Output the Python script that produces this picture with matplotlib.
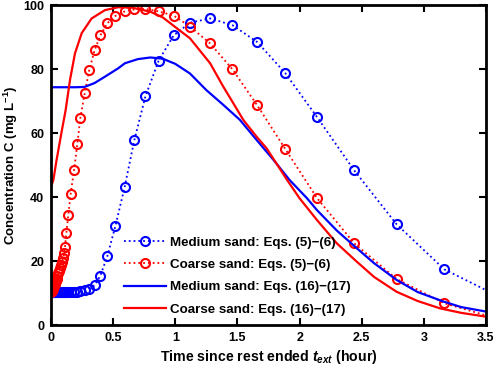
import matplotlib
matplotlib.use("Agg")
import matplotlib.pyplot as plt

# fuentes en negrita tipo Helvetica
plt.rcParams['font.family'] = ['Liberation Sans', 'DejaVu Sans']
plt.rcParams['font.weight'] = 'bold'
plt.rcParams['axes.labelweight'] = 'bold'
plt.rcParams['mathtext.fontset'] = 'custom'
plt.rcParams['mathtext.rm'] = 'Liberation Sans:bold'
plt.rcParams['mathtext.it'] = 'Liberation Sans:italic:bold'
plt.rcParams['mathtext.bf'] = 'Liberation Sans:bold'

# Eqs. (5)-(6): tiempos de los marcadores (compartidos)
t_eq56 = [0.0, 0.005, 0.01, 0.015, 0.02, 0.025, 0.03, 0.035, 0.04, 0.046, 0.052,
          0.059, 0.066, 0.072, 0.078, 0.087, 0.099, 0.107, 0.113, 0.123, 0.139,
          0.158, 0.185, 0.212, 0.236, 0.271, 0.308, 0.351, 0.397, 0.453, 0.518,
          0.593, 0.67, 0.76, 0.866, 0.987, 1.12, 1.28, 1.46, 1.66, 1.885, 2.14,
          2.44, 2.78, 3.164]
medium_eq56 = [10.2, 10.2, 10.2, 10.2, 10.2, 10.2, 10.2, 10.2, 10.2, 10.2, 10.2,
               10.2, 10.2, 10.2, 10.2, 10.2, 10.2, 10.2, 10.2, 10.2, 10.2,
               10.2, 10.2, 10.3, 10.5, 10.8, 11.3, 12.4, 15.4, 21.5, 30.9,
               43.2, 57.7, 71.5, 82.6, 90.5, 94.5, 95.8, 93.7, 88.4, 78.7, 65.0,
               48.3, 31.5, 17.4]
coarse_eq56 = [10.2, 10.5, 10.9, 11.3, 11.8, 12.2, 12.7, 13.2, 13.8, 14.5, 15.2,
               16.1, 17.0, 17.7, 18.6, 19.6, 20.8, 22.4, 24.5, 28.6, 34.4,
               40.9, 48.3, 56.6, 64.7, 72.4, 79.7, 85.9, 90.5, 94.3, 96.6,
               98.0, 98.6, 98.8, 98.0, 96.7, 93.2, 88.0, 79.9, 68.6, 55.0, 39.7,
               25.5, 14.4, 6.8]
# final de las curvas punteadas en t = 3.5
t_end = 3.5
medium_eq56_end = 10.9
coarse_eq56_end = 3.0

# Eqs. (16)-(17)
t_medium_eq1617 = [0.0, 0.1, 0.2, 0.27, 0.35, 0.434, 0.54, 0.595, 0.7, 0.8, 0.9,
                   1.0, 1.118, 1.25, 1.386, 1.52, 1.655, 1.79, 1.92, 2.06, 2.14,
                   2.3, 2.46, 2.6, 2.78, 2.95, 3.16, 3.3, 3.5]
medium_eq1617 = [74.3, 74.3, 74.3, 74.4, 75.6, 77.6, 80.2, 81.8, 83.1, 83.6, 83.2,
                 81.6, 78.6, 73.4, 68.8, 64.1, 57.8, 51.6, 45.3, 39.6, 35.9,
                 29.5, 24.0, 19.3, 14.1, 10.3, 7.3, 5.6, 4.2]
t_coarse_eq1617 = [0.0, 0.019, 0.045, 0.086, 0.118, 0.153, 0.193, 0.247, 0.327,
                   0.434, 0.54, 0.65, 0.8, 0.9, 0.98, 1.118, 1.28, 1.386, 1.467,
                   1.547, 1.655, 1.735, 1.9, 2.0, 2.14, 2.3, 2.46, 2.6, 2.78,
                   2.95, 3.13, 3.3, 3.5]
coarse_eq1617 = [43.2, 45.3, 51.6, 60.5, 67.2, 76.6, 84.9, 91.2, 95.8,
                 98.4, 99.3, 99.2, 97.9, 96.1, 93.7, 89.6, 81.8, 74.5, 69.3,
                 64.1, 58.8, 55.2, 45.3, 39.6, 32.8, 25.5, 19.8, 15.0, 10.4,
                 7.5, 5.2, 3.8, 2.6]

labels = ['Medium sand: Eqs. (5)\u2212(6)', 'Coarse sand: Eqs. (5)\u2212(6)',
          'Medium sand: Eqs. (16)\u2212(17)', 'Coarse sand: Eqs. (16)\u2212(17)']

fig = plt.figure(figsize=(4.94, 3.74), dpi=100)
ax = fig.add_axes([51 / 494, 49 / 374, 435 / 494, 320 / 374])

mk = dict(marker='o', markersize=6.5, markerfacecolor='none', markeredgewidth=1.5)
ax.plot(t_eq56 + [t_end], medium_eq56 + [medium_eq56_end], color='#0000ff', ls=':', lw=1.3)
ax.plot(t_eq56 + [t_end], coarse_eq56 + [coarse_eq56_end], color='#ff0000', ls=':', lw=1.3)
ax.plot(t_eq56, medium_eq56, color='#0000ff', ls='none', **mk)
ax.plot(t_eq56, coarse_eq56, color='#ff0000', ls='none', **mk)
ax.plot(t_medium_eq1617, medium_eq1617, color='#0000ff', lw=1.6)
ax.plot(t_coarse_eq1617, coarse_eq1617, color='#ff0000', lw=1.6)

# leyenda con manijas propias
h1, = ax.plot([], [], color='#0000ff', ls=':', lw=1.3, **mk)
h2, = ax.plot([], [], color='#ff0000', ls=':', lw=1.3, **mk)
h3, = ax.plot([], [], color='#0000ff', lw=1.6)
h4, = ax.plot([], [], color='#ff0000', lw=1.6)
ax.legend([h1, h2, h3, h4], labels, loc='lower left', bbox_to_anchor=(0.155, 0.0125),
          frameon=False, fontsize=9.6, handlelength=3.2, labelspacing=0.75,
          handletextpad=0.3, borderaxespad=0)

ax.set_xlim(0, 3.5)
ax.set_ylim(0, 100)
ax.set_xticks([0, 0.5, 1, 1.5, 2, 2.5, 3, 3.5])
ax.set_xticklabels(['0', '0.5', '1', '1.5', '2', '2.5', '3', '3.5'])
ax.set_yticks([0, 20, 40, 60, 80, 100])
ax.tick_params(direction='in', top=True, right=True, length=5, width=1.5,
               labelsize=9, pad=5)
for s in ax.spines.values():
    s.set_linewidth(2)

ax.set_xlabel('Time since rest ended $t_{ext}$ (hour)', fontsize=10.2, labelpad=3)
ax.set_ylabel('Concentration C (mg L$^{-1}$)', fontsize=9.5, labelpad=2)

fig.savefig('out.png', dpi=100)
